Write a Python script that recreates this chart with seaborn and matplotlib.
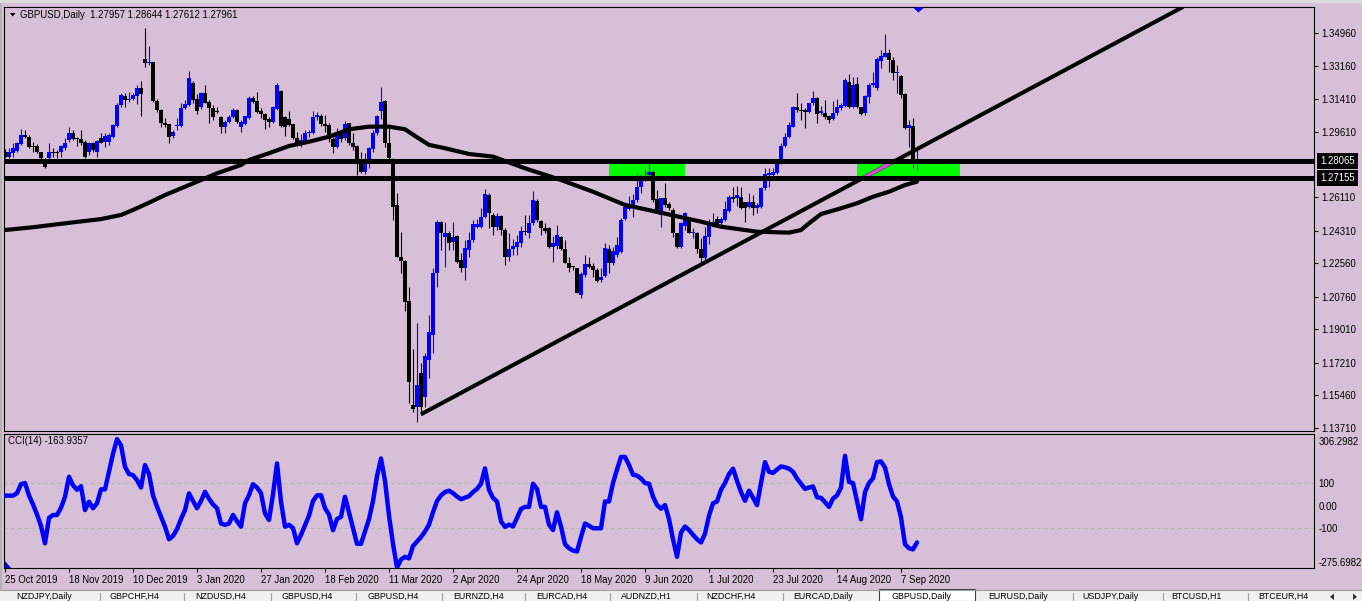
import matplotlib
matplotlib.use("Agg")
import matplotlib.pyplot as plt
import matplotlib.patches as mpatches
import matplotlib.lines as mlines
import matplotlib.transforms as mtransforms
import numpy as np
import pandas as pd
import seaborn as sns

# ---------------- data ----------------
symbol = "GBPUSD,Daily"
last_ohlc = ["1.27957", "1.28644", "1.27612", "1.27961"]
cci_label = "CCI(14) -163.9357"

date_labels = ["25 Oct 2019", "18 Nov 2019", "10 Dec 2019", "3 Jan 2020", "27 Jan 2020",
               "18 Feb 2020", "11 Mar 2020", "2 Apr 2020", "24 Apr 2020", "18 May 2020",
               "9 Jun 2020", "1 Jul 2020", "23 Jul 2020", "14 Aug 2020", "7 Sep 2020"]

opens = [
    1.2857, 1.2830, 1.2849, 1.2863, 1.2899, 1.2947, 1.2935, 1.2888, 1.2888, 1.2857,
    1.2813, 1.2822, 1.2854, 1.2854, 1.2854, 1.2876, 1.2920, 1.2960, 1.2933, 1.2925,
    1.2911, 1.2857, 1.2903, 1.2857, 1.2929, 1.2911, 1.2911, 1.2938, 1.2996, 1.3108,
    1.3157, 1.3136, 1.3139, 1.3157, 1.3198, 1.3354, 1.3333, 1.3341, 1.3131, 1.3082,
    1.3010, 1.3007, 1.2942, 1.2996, 1.2996, 1.3091, 1.3108, 1.3229, 1.3139, 1.3096,
    1.3175, 1.3126, 1.3091, 1.3072, 1.3042, 1.2989, 1.3019, 1.3042, 1.3082, 1.2992,
    1.3007, 1.3037, 1.3145, 1.3130, 1.3076, 1.3060, 1.3033, 1.3019, 1.3085, 1.3186,
    1.3046, 1.3033, 1.3007, 1.2929, 1.2903, 1.2916, 1.2956, 1.2960, 1.3046, 1.3049,
    1.3007, 1.3001, 1.2924, 1.2884, 1.2956, 1.2929, 1.3010, 1.2903, 1.2888, 1.2791,
    1.2750, 1.2795, 1.2870, 1.2956, 1.3078, 1.3131, 1.2906, 1.2813, 1.2571, 1.2293,
    1.2271, 1.2054, 1.1495, 1.1485, 1.1665, 1.1539, 1.1737, 1.1871, 1.2203, 1.2481,
    1.2400, 1.2419, 1.2373, 1.2404, 1.2275, 1.2230, 1.2329, 1.2382, 1.2454, 1.2451,
    1.2504, 1.2624, 1.2517, 1.2454, 1.2511, 1.2436, 1.2292, 1.2332, 1.2346, 1.2365,
    1.2431, 1.2422, 1.2472, 1.2594, 1.2486, 1.2449, 1.2445, 1.2343, 1.2350, 1.2400,
    1.2332, 1.2260, 1.2239, 1.2230, 1.2087, 1.2194, 1.2252, 1.2244, 1.2221, 1.2167,
    1.2189, 1.2332, 1.2260, 1.2302, 1.2319, 1.2494, 1.2548, 1.2553, 1.2598, 1.2666,
    1.2709, 1.2732, 1.2750, 1.2601, 1.2517, 1.2607, 1.2576, 1.2544, 1.2419, 1.2346,
    1.2458, 1.2494, 1.2419, 1.2422, 1.2332, 1.2286, 1.2400, 1.2463, 1.2494, 1.2472,
    1.2490, 1.2540, 1.2612, 1.2607, 1.2615, 1.2588, 1.2558, 1.2588, 1.2553, 1.2562,
    1.2660, 1.2732, 1.2732, 1.2741, 1.2795, 1.2888, 1.2935, 1.2992, 1.3096, 1.3082,
    1.3082, 1.3072, 1.3118, 1.3145, 1.3064, 1.3067, 1.3049, 1.3032, 1.3064, 1.3091,
    1.3103, 1.3234, 1.3096, 1.3221, 1.3096, 1.3067, 1.3150, 1.3216, 1.3198, 1.3347,
    1.3369, 1.3390, 1.3351, 1.3279, 1.3265, 1.3168, 1.2983, 1.2996, 1.27957]

highs = [
    1.2872, 1.2876, 1.2906, 1.2911, 1.2978, 1.2974, 1.2947, 1.2911, 1.2899, 1.2857,
    1.2824, 1.2903, 1.2876, 1.2867, 1.2894, 1.2929, 1.2989, 1.2974, 1.2938, 1.2974,
    1.2920, 1.2911, 1.2911, 1.2920, 1.2956, 1.2956, 1.2956, 1.3007, 1.3118, 1.3175,
    1.3172, 1.3180, 1.3172, 1.3216, 1.3238, 1.3521, 1.3426, 1.3341, 1.3139, 1.3085,
    1.3037, 1.3007, 1.2974, 1.3037, 1.3118, 1.3136, 1.3292, 1.3238, 1.3168, 1.3180,
    1.3216, 1.3136, 1.3108, 1.3099, 1.3049, 1.3028, 1.3055, 1.3091, 1.3085, 1.3028,
    1.3049, 1.3157, 1.3157, 1.3180, 1.3091, 1.3064, 1.3046, 1.3103, 1.3225, 1.3189,
    1.3049, 1.3076, 1.3007, 1.2965, 1.2953, 1.2974, 1.2974, 1.3078, 1.3071, 1.3058,
    1.3055, 1.3010, 1.2956, 1.2983, 1.2974, 1.3023, 1.3010, 1.2956, 1.2894, 1.2857,
    1.2849, 1.2884, 1.2974, 1.3055, 1.3207, 1.3136, 1.2983, 1.2822, 1.2633, 1.2427,
    1.2275, 1.2131, 1.1794, 1.1937, 1.1719, 1.1773, 1.1979, 1.2230, 1.2490, 1.2485,
    1.2481, 1.2432, 1.2478, 1.2409, 1.2311, 1.2382, 1.2427, 1.2490, 1.2494, 1.2553,
    1.2655, 1.2633, 1.2529, 1.2526, 1.2517, 1.2445, 1.2419, 1.2386, 1.2409, 1.2458,
    1.2517, 1.2517, 1.2647, 1.2605, 1.2490, 1.2476, 1.2451, 1.2404, 1.2463, 1.2404,
    1.2382, 1.2292, 1.2244, 1.2230, 1.2212, 1.2302, 1.2292, 1.2257, 1.2230, 1.2230,
    1.2365, 1.2355, 1.2346, 1.2400, 1.2499, 1.2583, 1.2619, 1.2630, 1.2738, 1.2738,
    1.2759, 1.2798, 1.2759, 1.2651, 1.2607, 1.2687, 1.2588, 1.2553, 1.2422, 1.2481,
    1.2535, 1.2499, 1.2445, 1.2427, 1.2391, 1.2454, 1.2494, 1.2529, 1.2511, 1.2508,
    1.2594, 1.2624, 1.2669, 1.2673, 1.2669, 1.2588, 1.2637, 1.2624, 1.2583, 1.2666,
    1.2768, 1.2768, 1.2768, 1.2804, 1.2906, 1.2956, 1.3019, 1.3103, 1.3172, 1.3118,
    1.3091, 1.3121, 1.3186, 1.3153, 1.3103, 1.3136, 1.3055, 1.3131, 1.3139, 1.3118,
    1.3252, 1.3274, 1.3258, 1.3258, 1.3096, 1.3162, 1.3225, 1.3288, 1.3368, 1.3404,
    1.3491, 1.3408, 1.3368, 1.3324, 1.3270, 1.3172, 1.3028, 1.3037, 1.28644]

lows = [
    1.2824, 1.2822, 1.2830, 1.2857, 1.2894, 1.2929, 1.2876, 1.2857, 1.2849, 1.2813,
    1.2771, 1.2795, 1.2830, 1.2825, 1.2830, 1.2867, 1.2911, 1.2920, 1.2888, 1.2894,
    1.2825, 1.2840, 1.2857, 1.2830, 1.2903, 1.2881, 1.2894, 1.2929, 1.2992, 1.3099,
    1.3099, 1.3126, 1.3136, 1.3114, 1.3051, 1.3312, 1.3324, 1.3126, 1.3072, 1.2992,
    1.2992, 1.2906, 1.2929, 1.2974, 1.2992, 1.3085, 1.3103, 1.3118, 1.3060, 1.3085,
    1.3118, 1.3013, 1.3028, 1.3064, 1.2960, 1.2956, 1.3010, 1.3037, 1.3010, 1.2965,
    1.3001, 1.3032, 1.3118, 1.3067, 1.3037, 1.2978, 1.2992, 1.3010, 1.3082, 1.2989,
    1.2942, 1.2996, 1.2924, 1.2888, 1.2884, 1.2911, 1.2938, 1.2953, 1.3028, 1.2996,
    1.2965, 1.2911, 1.2852, 1.2876, 1.2910, 1.2920, 1.2894, 1.2867, 1.2732, 1.2741,
    1.2737, 1.2768, 1.2857, 1.2947, 1.3032, 1.2884, 1.2813, 1.2490, 1.2289, 1.2203,
    1.2002, 1.1504, 1.1459, 1.1405, 1.1441, 1.1485, 1.1638, 1.1773, 1.2131, 1.2329,
    1.2239, 1.2329, 1.2329, 1.2257, 1.2212, 1.2167, 1.2292, 1.2373, 1.2445, 1.2445,
    1.2499, 1.2445, 1.2409, 1.2436, 1.2409, 1.2248, 1.2271, 1.2302, 1.2302, 1.2346,
    1.2409, 1.2391, 1.2463, 1.2481, 1.2409, 1.2422, 1.2338, 1.2266, 1.2332, 1.2329,
    1.2257, 1.2212, 1.2221, 1.2096, 1.2072, 1.2185, 1.2230, 1.2185, 1.2158, 1.2158,
    1.2185, 1.2203, 1.2248, 1.2292, 1.2314, 1.2490, 1.2544, 1.2504, 1.2588, 1.2637,
    1.2701, 1.2709, 1.2588, 1.2526, 1.2454, 1.2561, 1.2544, 1.2400, 1.2338, 1.2338,
    1.2436, 1.2419, 1.2391, 1.2314, 1.2264, 1.2264, 1.2361, 1.2454, 1.2458, 1.2463,
    1.2486, 1.2535, 1.2588, 1.2565, 1.2548, 1.2481, 1.2553, 1.2517, 1.2526, 1.2553,
    1.2651, 1.2669, 1.2723, 1.2738, 1.2791, 1.2884, 1.2929, 1.2989, 1.3072, 1.3028,
    1.2983, 1.3064, 1.3108, 1.3013, 1.3055, 1.3032, 1.3010, 1.3028, 1.3055, 1.3082,
    1.3096, 1.3091, 1.3091, 1.3091, 1.3055, 1.3055, 1.3121, 1.3207, 1.3189, 1.3306,
    1.3365, 1.3288, 1.3243, 1.3175, 1.3145, 1.2978, 1.2884, 1.2770, 1.27612]

closes = [
    1.2830, 1.2857, 1.2876, 1.2906, 1.2947, 1.2938, 1.2884, 1.2881, 1.2857, 1.2822,
    1.2777, 1.2854, 1.2849, 1.2852, 1.2888, 1.2903, 1.2960, 1.2924, 1.2925, 1.2903,
    1.2830, 1.2906, 1.2867, 1.2916, 1.2906, 1.2944, 1.2947, 1.3001, 1.3108, 1.3162,
    1.3136, 1.3143, 1.3162, 1.3198, 1.3168, 1.3336, 1.3341, 1.3131, 1.3082, 1.3010,
    1.3001, 1.2938, 1.2965, 1.3001, 1.3091, 1.3114, 1.3252, 1.3136, 1.3078, 1.3175,
    1.3121, 1.3091, 1.3046, 1.3069, 1.2989, 1.3019, 1.3046, 1.3082, 1.3019, 1.3019,
    1.3049, 1.3145, 1.3126, 1.3072, 1.3060, 1.3028, 1.3019, 1.3096, 1.3216, 1.2996,
    1.2992, 1.3001, 1.2929, 1.2899, 1.2920, 1.2960, 1.2965, 1.3042, 1.3055, 1.3005,
    1.2996, 1.2924, 1.2884, 1.2960, 1.2924, 1.3007, 1.2903, 1.2884, 1.2813, 1.2750,
    1.2795, 1.2876, 1.2960, 1.3049, 1.3126, 1.2906, 1.2822, 1.2561, 1.2293, 1.2271,
    1.2050, 1.1620, 1.1471, 1.1602, 1.1485, 1.1758, 1.1889, 1.2203, 1.2481, 1.2419,
    1.2419, 1.2365, 1.2400, 1.2266, 1.2230, 1.2337, 1.2382, 1.2467, 1.2468, 1.2508,
    1.2630, 1.2526, 1.2454, 1.2511, 1.2436, 1.2292, 1.2332, 1.2350, 1.2373, 1.2431,
    1.2424, 1.2475, 1.2598, 1.2490, 1.2445, 1.2432, 1.2343, 1.2365, 1.2409, 1.2332,
    1.2260, 1.2230, 1.2235, 1.2099, 1.2199, 1.2253, 1.2239, 1.2221, 1.2163, 1.2185,
    1.2338, 1.2260, 1.2325, 1.2355, 1.2490, 1.2558, 1.2576, 1.2598, 1.2666, 1.2709,
    1.2705, 1.2750, 1.2598, 1.2535, 1.2607, 1.2571, 1.2553, 1.2422, 1.2346, 1.2472,
    1.2526, 1.2422, 1.2422, 1.2332, 1.2286, 1.2404, 1.2472, 1.2481, 1.2468, 1.2494,
    1.2548, 1.2612, 1.2601, 1.2624, 1.2553, 1.2553, 1.2588, 1.2553, 1.2571, 1.2660,
    1.2738, 1.2741, 1.2750, 1.2795, 1.2888, 1.2938, 1.3001, 1.3096, 1.3082, 1.3078,
    1.3072, 1.3118, 1.3145, 1.3058, 1.3078, 1.3046, 1.3028, 1.3067, 1.3096, 1.3108,
    1.3243, 1.3099, 1.3216, 1.3096, 1.3060, 1.3157, 1.3216, 1.3225, 1.3354, 1.3372,
    1.3390, 1.3351, 1.3282, 1.3282, 1.3162, 1.2983, 1.3001, 1.2796, 1.27961]

# moving average, read at sampled bars
ma_bar = [0, 7, 15, 24, 29, 32, 36, 40, 44, 49, 53, 59, 61, 66, 71, 76, 81, 86, 91, 96,
          100, 103, 106, 110, 116, 122, 130, 139, 147, 155, 164, 174, 179, 188, 196, 199,
          201, 204, 209, 213, 217, 221, 225, 228]
ma_val = [1.2436, 1.2451, 1.2472, 1.2495, 1.2517, 1.2544, 1.2583, 1.2624, 1.2660, 1.2705,
          1.2741, 1.2786, 1.2813, 1.2849, 1.2888, 1.2911, 1.2938, 1.2978, 1.2992, 1.2992,
          1.2978, 1.2935, 1.2894, 1.2876, 1.2845, 1.2831, 1.2768, 1.2705, 1.2642, 1.2571,
          1.2529, 1.2481, 1.2454, 1.2427, 1.2422, 1.2436, 1.2472, 1.2522, 1.2553, 1.2580,
          1.2615, 1.2642, 1.2678, 1.2696]

trend_bar = [104, 294.5]
trend_val = [1.1445, 1.3636]

levels = [1.28065, 1.27155]
zone_bars = [(151, 170), (213, 238.75)]

price_ticks = [1.34960, 1.33160, 1.31410, 1.29610, 1.26110, 1.24310, 1.22560,
               1.20760, 1.19010, 1.17210, 1.15460, 1.13710]

cci = [
    44, 44, 44, 55, 95, 100, 45, 5, -40, -90,
    -168, -55, -42, -42, -10, 39, 128, 90, 70, 86,
    -20, 17, -12, 10, 72, 72, 150, 230, 295, 268,
    172, 140, 135, 113, 80, 180, 140, 45, -5, -50,
    -94, -150, -135, -105, -60, -20, 54, 20, -12, 20,
    61, 30, 5, -12, -80, -86, -80, -42, -70, -94,
    10, 46, 95, 80, 55, -35, -64, 50, 187, 17,
    -94, -86, -100, -168, -130, -87, -45, 20, 45, 46,
    -12, -40, -110, -60, -50, 39, -30, -100, -170, -170,
    -115, -60, 20, 130, 209, 110, -45, -170, -275.7, -240,
    -228, -235, -180, -160, -140, -115, -85, -30, 20, 45,
    60, 66, 55, 40, 28, 35, 42, 60, 74, 97,
    165, 70, 34, 18, -70, -95, -85, -93, -55, -15,
    -6, -6, 97, 74, -6, -6, -85, -109, -30, -93,
    -172, -190, -200, -204, -140, -80, -90, -101, -101, -101,
    18, 18, 100, 160, 216, 216, 180, 137, 133, 120,
    100, 97, 40, 2, -14, 2, -60, -150, -228, -120,
    -93, -109, -130, -150, -164, -125, -45, 10, 18, 70,
    100, 140, 164, 110, 60, 21, 66, 35, 2, 100,
    193, 150, 145, 160, 174, 170, 164, 150, 120, 97,
    74, 80, 85, 37, 34, 15, -6, 31, 45, 80,
    221, 105, 100, 20, -61, 60, 100, 121, 193, 196,
    169, 95, 40, 18, -53, -172, -190, -195, -164]
cci_ticks = [306.2982, 100, 0, -100, -275.6982]
cci_tick_labels = ["306.2982", "100", "0.00", "-100", "-275.6982"]

tabs = ["NZDJPY,Daily", "GBPCHF,H4", "NZDUSD,H4", "GBPUSD,H4", "GBPUSD,H4", "EURNZD,H4",
        "EURCAD,H4", "AUDNZD,H1", "NZDCHF,H4", "EURCAD,Daily", "GBPUSD,Daily",
        "EURUSD,Daily", "USDJPY,Daily", "BTCUSD,H1", "BTCEUR,H4"]

# ---------------- styling ----------------
sns.set_theme(style="white")
plt.rcParams['font.family'] = ['Liberation Sans', 'DejaVu Sans']
FS = 6.9
BG = "#D8BFD8"
BLUE = "#0000FF"
W, H = 1362, 601

fig = plt.figure(figsize=(W / 100, H / 100), dpi=100)
fig.patch.set_facecolor(BG)


def fx(px):
    return px / W


def fy(py):
    return 1 - py / H


L, R = 4, 1314
ax = fig.add_axes([fx(L), fy(431), fx(R) - fx(L), fy(7.3) - fy(431)])
axc = fig.add_axes([fx(L), fy(568.3), fx(R) - fx(L), fy(434) - fy(568.3)], sharex=ax)
for a in (ax, axc):
    a.set_facecolor(BG)
    for s in a.spines.values():
        s.set_color('black')
        s.set_linewidth(0.8)

df = pd.DataFrame({'o': opens, 'h': highs, 'l': lows, 'c': closes})
df['bar'] = np.arange(len(df))
col = np.where(df.c > df.o, BLUE, '#000000')

# zones (background)
zlo, zhi = min(levels), max(levels)
rects = []
for b0, b1 in zone_bars:
    r = mpatches.Rectangle((b0, zlo), b1 - b0, zhi - zlo, facecolor='#00FF00',
                           edgecolor='none', zorder=1)
    ax.add_patch(r)
    rects.append(r)

# candles
ax.vlines(df.bar, df.l, df.h, colors=col, linewidth=0.8, zorder=3)
body = (df.c - df.o).abs().clip(lower=0.0005)
ax.bar(df.bar, body, bottom=np.minimum(df.o, df.c), width=0.78, color=col,
       linewidth=0, zorder=3)

# moving average
sns.lineplot(x=ma_bar, y=ma_val, ax=ax, color='black', linewidth=3.0,
             estimator=None, sort=False, zorder=4)

# trend line (magenta where it crosses the second zone)
ax.plot(trend_bar, trend_val, color='black', lw=2.9, zorder=4, solid_capstyle='butt')
mag, = ax.plot(trend_bar, trend_val, color='#D64BD6', lw=2.6, zorder=4.5)
mag.set_clip_path(rects[1])

# horizontal levels
for lv in levels:
    ax.axhline(lv, color='black', lw=3.6, zorder=5)

ax.set_xlim(-0.25, 327.25)
ax.set_ylim(1.1355, 1.3634)
ax.set_xlabel('')
ax.set_ylabel('')
ax.yaxis.tick_right()
ax.set_yticks(price_ticks)
ax.set_yticklabels([f"{v:.5f}" for v in price_ticks])
ax.tick_params(axis='y', direction='out', length=3, width=0.8, colors='black',
               labelsize=FS, pad=2, right=True, left=False)
ax.tick_params(axis='x', bottom=False, labelbottom=False)

tr = mtransforms.blended_transform_factory(ax.transAxes, ax.transData)
for lv in levels:
    ax.text((1320 - L) / (R - L), lv, f"{lv:.5f}", transform=tr, ha='left', va='center',
            color='white', fontsize=FS, clip_on=False, zorder=10,
            bbox=dict(boxstyle='square,pad=0.3', fc='black', ec='none'))

# CCI panel
axc.axhline(100, color='#B8B8B8', lw=0.8, ls=(0, (3, 3)), zorder=1)
axc.axhline(-100, color='#B8B8B8', lw=0.8, ls=(0, (3, 3)), zorder=1)
sns.lineplot(x=df.bar, y=cci, ax=axc, color=BLUE, linewidth=3.2, estimator=None, zorder=3)
axc.set_ylim(-279, 318)
axc.set_xlabel('')
axc.set_ylabel('')
axc.yaxis.tick_right()
axc.set_yticks(cci_ticks)
axc.set_yticklabels(cci_tick_labels)
axc.tick_params(axis='y', length=0, labelsize=FS, pad=3, colors='black')
ylabs = axc.get_yticklabels()
ylabs[0].set_va('top')
ylabs[-1].set_va('bottom')

axc.set_xticks(np.arange(0, 16 * len(date_labels), 16))
axc.set_xticklabels(date_labels, ha='left')
axc.tick_params(axis='x', direction='out', length=3, width=0.8, colors='black',
                labelsize=FS, pad=2, bottom=True)

# header texts
fig.text(fx(20.5), fy(15.5), f"{symbol}  {' '.join(last_ohlc)}", fontsize=FS,
         ha='left', va='center', color='black')
fig.patches.append(mpatches.Polygon([[fx(10), fy(13)], [fx(15.5), fy(13)], [fx(12.75), fy(16.5)]],
                                    closed=True, transform=fig.transFigure, fc='black', ec='none'))
fig.text(fx(8), fy(441.5), cci_label, fontsize=FS, ha='left', va='center', color='black')

# small blue markers
fig.patches.append(mpatches.Polygon([[fx(913), fy(7.5)], [fx(924), fy(7.5)], [fx(918.5), fy(12.5)]],
                                    closed=True, transform=fig.transFigure, fc=BLUE, ec='none', zorder=20))
fig.patches.append(mpatches.Polygon([[fx(5), fy(561)], [fx(5), fy(568)], [fx(11), fy(568)]],
                                    closed=True, transform=fig.transFigure, fc=BLUE, ec='none', zorder=20))

# window chrome
fig.patches.append(mpatches.Rectangle((0, fy(2.5)), 1, 2.5 / H, transform=fig.transFigure,
                                      fc='#DCDCDC', ec='none'))
fig.patches.append(mpatches.Rectangle((0, fy(590)), fx(2), 587.5 / H, transform=fig.transFigure,
                                      fc='#B4B4B4', ec='none'))

# tab bar
fig.patches.append(mpatches.Rectangle((0, 0), 1, 11 / H, transform=fig.transFigure,
                                      fc='#F0F0F0', ec='none'))
fig.lines.append(mlines.Line2D([0, 1], [fy(590), fy(590)], transform=fig.transFigure,
                               color='#A0A0A0', lw=0.8))
for sx in [99.5, 184, 271, 356, 442, 525, 610, 697, 783, 1073, 1163, 1248]:
    fig.lines.append(mlines.Line2D([fx(sx), fx(sx)], [fy(593), 0], transform=fig.transFigure,
                                   color='#A0A0A0', lw=0.8))
fig.patches.append(mpatches.Rectangle((fx(879), 0), fx(975) - fx(879), 12.5 / H,
                                      transform=fig.transFigure, fc='white', ec='#404040', lw=0.8))
for tx, t in zip([16, 110, 195, 282, 368, 453, 536, 621, 706, 793, 892, 988, 1082, 1171, 1258], tabs):
    fig.text(fx(tx), fy(598.6), t, fontsize=6.4, ha='left', va='baseline', color='black')
fig.patches.append(mpatches.Polygon([[fx(1334), fy(593.5)], [fx(1334), fy(600)], [fx(1330), fy(596.8)]],
                                    closed=True, transform=fig.transFigure, fc='#303030', ec='none'))
fig.patches.append(mpatches.Polygon([[fx(1353), fy(593.5)], [fx(1353), fy(600)], [fx(1357), fy(596.8)]],
                                    closed=True, transform=fig.transFigure, fc='#303030', ec='none'))

fig.savefig("out.png", dpi=100, facecolor=BG)
